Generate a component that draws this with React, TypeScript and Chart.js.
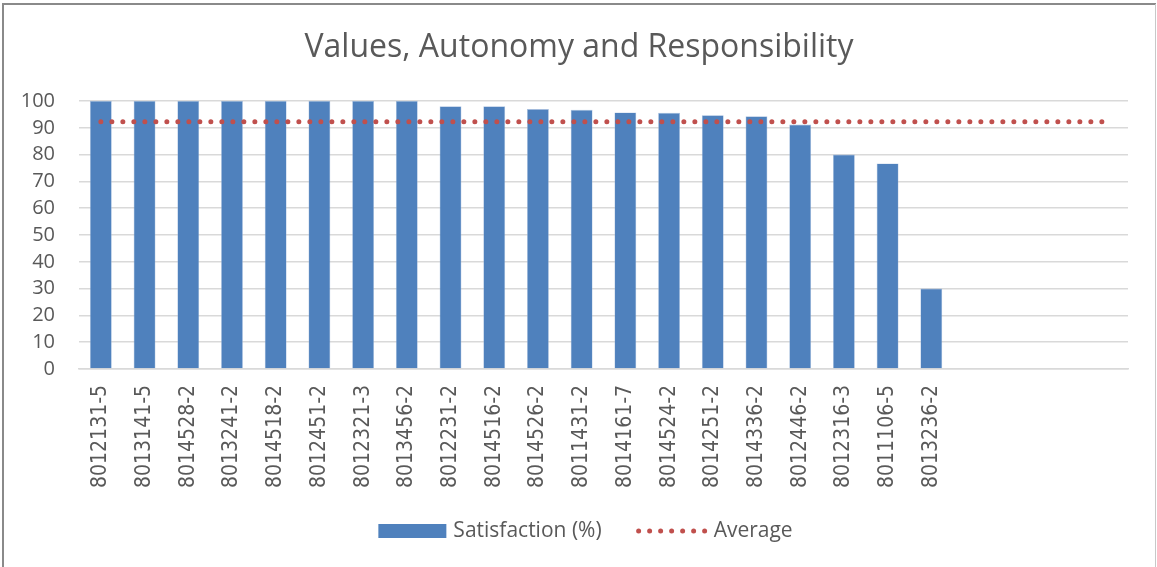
import React, { useEffect, useRef } from "react";
import { Chart, registerables } from "chart.js";

Chart.register(...registerables);

const chartTitle = "Values, Autonomy and Responsibility";

const categories: string[] = [
  "8012131-5", "8013141-5", "8014528-2", "8013241-2", "8014518-2",
  "8012451-2", "8012321-3", "8013456-2", "8012231-2", "8014516-2",
  "8014526-2", "8011431-2", "8014161-7", "8014524-2", "8014251-2",
  "8014336-2", "8012446-2", "8012316-3", "8011106-5", "8013236-2",
  "", "", "", "",
];

const satisfactionValues: (number | null)[] = [
  100, 100, 100, 100, 100, 100, 100, 100, 98, 98,
  97, 96.7, 95.7, 95.6, 94.7, 94.3, 91.2, 80, 76.7, 30,
  null, null, null, null,
];

const averageValues: number[] = [
  92.3, 92.3, 92.3, 92.3, 92.3, 92.3, 92.3, 92.3, 92.3, 92.3,
  92.3, 92.3, 92.3, 92.3, 92.3, 92.3, 92.3, 92.3, 92.3, 92.3,
  92.3, 92.3, 92.3, 92.3,
];

const yTicks = { min: 0, max: 100, step: 10 };

const BAR_COLOR = "#4F81BD";
const AVG_COLOR = "#C0504D";
const TEXT_COLOR = "#595959";
const GRID_COLOR = "#D9D9D9";
const FONT = "'Open Sans', 'Liberation Sans', sans-serif";
const NARROW_FONT = "'Liberation Sans Narrow', 'DejaVu Sans Condensed', sans-serif";

const decorPlugin = {
  id: "decor",
  afterDraw(chart: any) {
    const ctx = chart.ctx as CanvasRenderingContext2D;
    ctx.save();
    // frame
    ctx.strokeStyle = "#8a8a8a";
    ctx.lineWidth = 2;
    ctx.beginPath();
    ctx.moveTo(3, 600);
    ctx.lineTo(3, 4);
    ctx.lineTo(1156, 4);
    ctx.stroke();
    ctx.strokeStyle = "#c8c8c8";
    ctx.lineWidth = 1;
    ctx.beginPath();
    ctx.moveTo(1155.5, 4);
    ctx.lineTo(1155.5, 600);
    ctx.stroke();

    // title
    ctx.fillStyle = TEXT_COLOR;
    ctx.font = `32px ${FONT}`;
    ctx.textAlign = "center";
    ctx.textBaseline = "alphabetic";
    ctx.fillText(chartTitle, 579, 57);

    // legend
    const ds = chart.data.datasets;
    ctx.font = `21px ${FONT}`;
    const w1 = ctx.measureText(ds[0].label).width;
    const w2 = ctx.measureText(ds[1].label).width;
    const total = 68 + 7 + w1 + 35 + 71 + 6 + w2;
    let x = 585.5 - total / 2;
    const cy = 531;
    ctx.fillStyle = BAR_COLOR;
    ctx.fillRect(x, cy - 7, 68, 14);
    x += 68 + 7;
    ctx.fillStyle = TEXT_COLOR;
    ctx.textAlign = "left";
    ctx.textBaseline = "middle";
    ctx.fillText(ds[0].label, x, cy);
    x += w1 + 35;
    ctx.strokeStyle = AVG_COLOR;
    ctx.lineWidth = 5;
    ctx.lineCap = "round";
    ctx.setLineDash([0, 11]);
    ctx.beginPath();
    ctx.moveTo(x + 2, cy);
    ctx.lineTo(x + 70, cy);
    ctx.stroke();
    ctx.setLineDash([]);
    x += 71 + 6;
    ctx.fillStyle = TEXT_COLOR;
    ctx.fillText(ds[1].label, x, cy);
    ctx.restore();
  },
};

export default function App() {
  const canvasRef = useRef<HTMLCanvasElement | null>(null);

  useEffect(() => {
    if (!canvasRef.current) return;
    const chart = new Chart(canvasRef.current, {
      type: "bar",
      data: {
        labels: categories,
        datasets: [
          {
            type: "bar",
            label: "Satisfaction (%)",
            data: satisfactionValues,
            backgroundColor: BAR_COLOR,
            borderColor: "rgba(160,185,220,0.9)",
            borderWidth: 0.6,
            categoryPercentage: 1.0,
            barPercentage: 0.5,
            order: 2,
          },
          {
            type: "line",
            label: "Average",
            data: averageValues,
            borderColor: AVG_COLOR,
            borderWidth: 5,
            borderCapStyle: "round",
            borderDash: [0, 11],
            pointRadius: 0,
            fill: false,
            order: 1,
          } as any,
        ],
      },
      options: {
        responsive: false,
        animation: false,
        layout: { padding: { top: 101, right: 29, left: 0, bottom: 0 } },
        plugins: {
          legend: { display: false },
          title: { display: false },
          tooltip: { enabled: false },
        },
        scales: {
          x: {
            offset: true,
            grid: { display: false, drawTicks: false },
            border: { display: true, color: GRID_COLOR, width: 1.5 },
            ticks: {
              autoSkip: false,
              minRotation: 90,
              maxRotation: 90,
              padding: 16,
              color: TEXT_COLOR,
              font: { family: NARROW_FONT, size: 21 },
            },
            afterFit: (s: any) => {
              s.height = 198;
            },
          },
          y: {
            min: yTicks.min,
            max: yTicks.max,
            grid: { color: GRID_COLOR, lineWidth: 1.5, drawTicks: false },
            border: { display: false },
            ticks: {
              stepSize: yTicks.step,
              autoSkip: false,
              padding: 24,
              color: TEXT_COLOR,
              font: { family: FONT, size: 20 },
            },
            afterFit: (s: any) => {
              s.width = 79;
            },
          },
        },
      },
      plugins: [decorPlugin],
    });
    return () => chart.destroy();
  }, []);

  return (
    <div style={{ position: "absolute", left: 0, top: 0, width: 1157, height: 567, background: "#fff" }}>
      <canvas ref={canvasRef} width={1157} height={567} style={{ display: "block" }} />
    </div>
  );
}
